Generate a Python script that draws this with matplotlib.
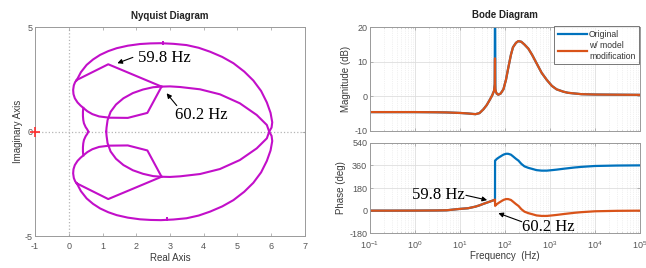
import numpy as np
import matplotlib
matplotlib.use('Agg')
import matplotlib.pyplot as plt

plt.rcParams['font.family'] = ['Liberation Sans', 'DejaVu Sans']
plt.rcParams['axes.unicode_minus'] = False
plt.rcParams['mathtext.fontset'] = 'custom'
plt.rcParams['mathtext.rm'] = 'Liberation Sans'
plt.rcParams['mathtext.default'] = 'regular'

# ---- Nyquist traces (upper half; the lower half is the conjugate branch) ----
lobe_re = [0.24, 0.19, 0.15, 0.13, 0.14, 0.18, 0.26, 0.35, 0.43, 0.55, 0.70, 0.90,
           1.20, 1.75, 2.33, 2.75, 1.17, 0.24]
lobe_im = [2.48, 2.38, 2.22, 2.00, 1.80, 1.60, 1.40, 1.25, 1.14, 0.98, 0.84, 0.73,
           0.67, 0.66, 0.90, 2.16, 3.23, 2.48]

wiggle_re = [0.43, 0.42, 0.42, 0.43, 0.45, 0.50, 0.55, 0.58]
wiggle_im = [1.14, 0.95, 0.75, 0.56, 0.40, 0.22, 0.10, 0.00]

# outer arc (top) that crosses the real axis near 5.94 and runs into the inner arc (bottom)
outer_re = [0.24, 0.36, 0.53, 0.72, 0.93, 1.17, 1.42, 1.75, 2.11, 2.42, 2.73, 3.10,
            3.49, 3.85, 4.19, 4.55, 4.88, 5.20, 5.47, 5.70, 5.87, 5.98, 6.03, 6.01,
            5.94, 5.87, 5.57, 5.07, 4.48, 3.89, 3.30, 3.00, 2.75]
outer_im = [2.48, 2.85, 3.20, 3.46, 3.68, 3.86, 4.00, 4.12, 4.20, 4.23, 4.24, 4.21,
            4.15, 4.02, 3.83, 3.58, 3.28, 2.88, 2.45, 1.95, 1.40, 0.90, 0.45, 0.20,
            0.00, -0.32, -0.80, -1.36, -1.79, -2.03, -2.14, -2.17, -2.16]

inner_re = [2.75, 2.50, 2.20, 1.90, 1.62, 1.40, 1.24, 1.15, 1.12, 1.11]
inner_im = [2.16, 2.13, 2.02, 1.85, 1.60, 1.30, 0.95, 0.55, 0.20, 0.00]

dir_re = [2.80, 2.90]
dir_im = [4.23, -4.20]

# ---- Bode data ----
freq = [0.1, 0.3, 1, 3, 5, 10, 15, 22, 27, 33, 39, 46, 52, 57, 59.0, 59.8, 60.0, 60.2,
        61, 63, 66, 71, 80, 92, 105, 117, 135, 150, 175, 198, 230, 270, 330, 400, 500,
        650, 850, 1100, 1400, 2000, 2500, 3500, 5000, 1e4, 3e4, 1e5]

mag_orig = [-4.6, -4.6, -4.6, -4.65, -4.7, -4.85, -5.0, -5.2, -4.9, -3.8, -2.6, -1.0, 0.3,
            1.6, 3.5, 30, 40, 30, 2.0, 1.2, 0.7, 0.45, 0.8, 2.0, 4.8, 8.0, 12.0, 14.2,
            15.5, 16.0, 15.8, 15.0, 13.8, 12.0, 9.6, 6.8, 4.7, 3.0, 2.0, 1.3, 1.0, 0.8,
            0.6, 0.5, 0.45, 0.4]
mag_mod = [-4.6, -4.6, -4.6, -4.65, -4.7, -4.85, -5.0, -5.2, -4.9, -3.8, -2.6, -1.0, 0.3,
           1.6, 3.5, 11.0, 8.0, 3.5, 2.0, 1.2, 0.7, 0.45, 0.8, 2.0, 4.8, 8.0, 12.0, 14.2,
           15.5, 16.0, 15.8, 15.0, 13.8, 12.0, 9.6, 6.8, 4.7, 3.0, 2.0, 1.3, 1.0, 0.8,
           0.6, 0.5, 0.45, 0.4]

ph_orig = [0, 0, 0.5, 1.5, 3, 14, 19, 32, 42, 54, 63, 72, 79, 84, 87, 88, 398, 398,
           400, 405, 412, 420, 432, 445, 452, 452, 445, 432, 412, 398, 372, 352, 340,
           332, 322, 318, 318, 322, 326, 333, 337, 343, 348, 355, 358.5, 360]
ph_mod = [0, 0, 0.5, 1.5, 3, 14, 19, 32, 42, 54, 63, 72, 79, 84, 87, 88, 60, 38,
          40, 45, 52, 60, 72, 85, 92, 92, 85, 72, 52, 38, 12, -8, -20,
          -28, -38, -42, -42, -38, -34, -27, -23, -17, -12, -5, -1.5, 0]

MAG = '#c20fc9'
BLUE = '#0072BD'
ORANGE = '#D95319'
SPINE = '#9a9a9a'
TICKC = '#555555'
LABC = '#3a3a3a'
serif = ['Liberation Serif', 'DejaVu Serif']
arrow = dict(arrowstyle='-|>', color='k', lw=0.8, mutation_scale=7, shrinkA=0, shrinkB=0)


def note(a, text, pos, head, tail, ha):
    a.text(pos[0], pos[1], text, fontsize=12, family=serif, va='center', ha=ha, color='k')
    a.annotate('', xy=head, xytext=tail, arrowprops=arrow)


fig = plt.figure(figsize=(6.46, 2.68), dpi=100)

# ---------------- Nyquist ----------------
ax = fig.add_axes([0.0542, 0.1194, 0.4179, 0.7786])
ax.axhline(0, color='#b5b5b5', ls=':', lw=0.9, zorder=0)
ax.axvline(0, color='#b5b5b5', ls=':', lw=0.9, zorder=0)
for re, im in [(lobe_re, lobe_im), (wiggle_re, wiggle_im),
               (outer_re, outer_im), (inner_re, inner_im)]:
    re = np.array(re)
    im = np.array(im)
    ax.plot(re, im, color=MAG, lw=1.5, solid_joinstyle='round')
    ax.plot(re, -im, color=MAG, lw=1.5, solid_joinstyle='round')
ax.plot(dir_re, dir_im, ls='none', marker='|', ms=3.5, mew=1.4, color=MAG)
ax.plot(-1, 0, marker='+', color='#ff3030', ms=7, mew=1.2, clip_on=False, zorder=5)

ax.set_xlim(-1, 7)
ax.set_ylim(-5, 5)
ax.set_xticks(range(-1, 8))
ax.set_yticks([-5, 0, 5])
ax.set_title('Nyquist Diagram', fontsize=7, fontweight='bold', color='#222222', pad=6)
ax.set_xlabel('Real Axis', fontsize=7, color=LABC, labelpad=2)
ax.set_ylabel('Imaginary Axis', fontsize=7, color=LABC, labelpad=1)

note(ax, '59.8 Hz', (2.04, 3.55), head=(1.44, 3.28), tail=(1.90, 3.56), ha='left')
note(ax, '60.2 Hz', (3.16, 0.78), head=(2.90, 1.84), tail=(3.20, 1.25), ha='left')

# ---------------- Bode magnitude ----------------
axm = fig.add_axes([0.5728, 0.5123, 0.418, 0.3858])
axm.semilogx(freq, mag_orig, color=BLUE, lw=1.6, label='Original')
axm.semilogx(freq, mag_mod, color=ORANGE, lw=1.6, label='w/ model\nmodification')
axm.set_xlim(0.1, 1e5)
axm.set_ylim(-10, 20)
axm.set_yticks([-10, 0, 10, 20])
axm.tick_params(axis='x', labelbottom=False)
axm.set_ylabel('Magnitude (dB)', fontsize=7, color=LABC, labelpad=2)
axm.set_title('Bode Diagram', fontsize=7, fontweight='bold', color='#222222', pad=7)
leg = axm.legend(loc='upper right', fontsize=6.2, frameon=True, fancybox=False,
                 borderpad=0.45, handlelength=3.4, handletextpad=0.25, labelspacing=0.3,
                 borderaxespad=0.0, bbox_to_anchor=(0.997, 1.015))
leg.get_frame().set_edgecolor('#555555')
leg.get_frame().set_linewidth(0.7)
for t in leg.get_texts():
    t.set_color('#333333')

# ---------------- Bode phase ----------------
axp = fig.add_axes([0.5728, 0.1295, 0.418, 0.338])
axp.semilogx(freq, ph_orig, color=BLUE, lw=1.6)
axp.semilogx(freq, ph_mod, color=ORANGE, lw=1.6)
axp.set_xlim(0.1, 1e5)
axp.set_ylim(-180, 540)
axp.set_yticks([-180, 0, 180, 360, 540])
axp.set_xticks([10.0 ** k for k in range(-1, 6)])
axp.set_ylabel('Phase (deg)', fontsize=7, color=LABC, labelpad=2)
axp.set_xlabel('Frequency  (Hz)', fontsize=7, color=LABC, labelpad=0)

note(axp, '59.8 Hz', (12.5, 125), head=(40, 84), tail=(13.5, 122), ha='right')
note(axp, '60.2 Hz', (238, -128), head=(71, -20), tail=(235, -88), ha='left')

for a in (axm, axp):
    a.grid(which='major', color='#dedede', lw=0.6)
    a.grid(which='minor', axis='x', color='#e4e4e4', ls=':', lw=0.5)
    a.set_axisbelow(True)

for a in (ax, axm, axp):
    for s in a.spines.values():
        s.set_color(SPINE)
        s.set_linewidth(0.7)
    a.tick_params(which='both', direction='in', top=True, right=True, length=2,
                  width=0.5, color=SPINE, labelsize=6.5, labelcolor=TICKC, pad=2)
    a.tick_params(which='minor', length=1)
ax.tick_params(axis='x', pad=4)
axp.tick_params(axis='x', pad=4)

fig.savefig('out.png', dpi=100)
